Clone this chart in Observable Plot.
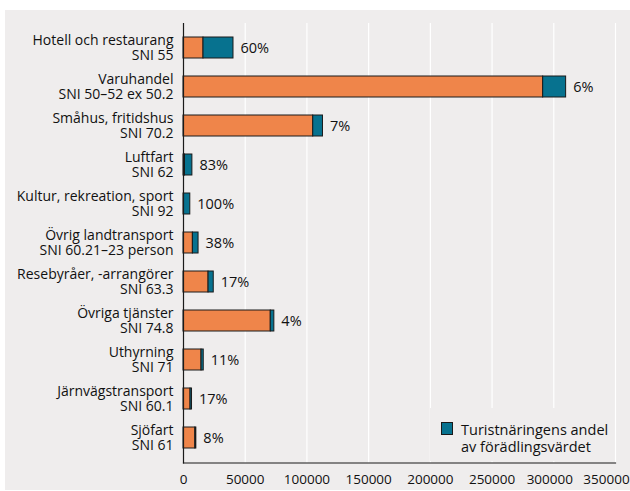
<!DOCTYPE html>
<html>
<head>
<meta charset="utf-8">
<script src="https://cdn.jsdelivr.net/npm/d3@7"></script>
<script src="https://cdn.jsdelivr.net/npm/@observablehq/plot@0.6"></script>
<style>
  html, body { margin: 0; padding: 0; background: #ffffff; }
  #wrap { position: relative; width: 630px; height: 491px; overflow: hidden; }
  #panel { position: absolute; left: 5px; top: 10px; right: 0; bottom: 1px; background: #efeded; }
  #chart { position: absolute; left: 0; top: 0; }
  #legend { position: absolute; left: 430px; top: 408px; width: 184px; height: 53px; background: #efeded;
            font-family: "Open Sans", sans-serif; font-size: 14.5px; color: #111; }
  #legend .sw { position: absolute; left: 11px; top: 14px; width: 12px; height: 13px; box-sizing: border-box;
                background: #07728f; border: 1px solid #1a1a1a; }
  #legend .tx { position: absolute; left: 31px; top: 13px; line-height: 17px; white-space: nowrap; }
</style>
</head>
<body>
<div id="wrap">
  <div id="panel"></div>
  <div id="chart"></div>
  <div id="legend"><div class="sw"></div><div class="tx">Turistnäringens andel<br>av förädlingsvärdet</div></div>
</div>
<script>
const categories = [
  "Hotell och restaurang\nSNI 55",
  "Varuhandel\nSNI 50–52 ex 50.2",
  "Småhus, fritidshus\nSNI 70.2",
  "Luftfart\nSNI 62",
  "Kultur, rekreation, sport\nSNI 92",
  "Övrig landtransport\nSNI 60.21–23 person",
  "Resebyråer, -arrangörer\nSNI 63.3",
  "Övriga tjänster\nSNI 74.8",
  "Uthyrning\nSNI 71",
  "Järnvägstransport\nSNI 60.1",
  "Sjöfart\nSNI 61"
];
// förädlingsvärde utanför turistnäringen (orange)
const ovrigt = [16200, 291400, 105100, 1200, 0, 7600, 20300, 70700, 14600, 5700, 9600];
// turistnäringens del (blå)
const turism = [24300, 18600, 7900, 6000, 5500, 4600, 4200, 2900, 1800, 1200, 800];
const andel = ["60%", "6%", "7%", "83%", "100%", "38%", "17%", "4%", "11%", "17%", "8%"];
const xTicks = [0, 50000, 100000, 150000, 200000, 250000, 300000, 350000];
const series = ["Övrigt", "Turistnäringens andel av förädlingsvärdet"];
const colors = ["#ef854a", "#07728f"];

const rows = categories.flatMap((c, i) => [
  {cat: c, serie: series[0], value: ovrigt[i]},
  {cat: c, serie: series[1], value: turism[i]}
]);
const totals = categories.map((c, i) => ({cat: c, total: ovrigt[i] + turism[i], label: andel[i]}));

const chart = Plot.plot({
  width: 630,
  height: 491,
  marginLeft: 183,
  marginRight: 15,
  marginTop: 23,
  marginBottom: 28.5,
  style: {background: "transparent", fontFamily: "Open Sans, sans-serif", fontSize: "14px", color: "#111"},
  x: {domain: [0, 350000], axis: null},
  y: {domain: categories, paddingInner: 0.45, paddingOuter: 0.225, axis: null},
  color: {domain: series, range: colors},
  marks: [
    Plot.gridX(xTicks.slice(1), {stroke: "#ffffff", strokeOpacity: 1, strokeWidth: 1.2}),
    Plot.barX(rows, {x: "value", y: "cat", fill: "serie", stroke: "#1a1a1a", strokeWidth: 1}),
    Plot.text(totals, {x: "total", y: "cat", text: "label", textAnchor: "start", dx: 7, fontSize: 14.5, fill: "#111"}),
    Plot.axisY({tickSize: 0, tickPadding: 10, fontSize: 14, lineHeight: 1.03, fill: "#111", label: null}),
    Plot.axisX(xTicks.slice(0, 6), {tickSize: 0, tickPadding: 11, fontSize: 13.5, fill: "#111", label: null, tickFormat: d => String(d)}),
    Plot.axisX([xTicks[6]], {tickSize: 0, tickPadding: 11, fontSize: 13.5, fill: "#111", label: null, dx: -4, tickFormat: d => String(d)}),
    Plot.axisX([xTicks[7]], {tickSize: 0, tickPadding: 11, fontSize: 13.5, fill: "#111", label: null, dx: -9, tickFormat: d => String(d)}),
    Plot.frame({anchor: "bottom", stroke: "#1a1a1a", strokeWidth: 1.2}),
    Plot.frame({anchor: "left", stroke: "#1a1a1a", strokeWidth: 1.2})
  ]
});
document.getElementById("chart").appendChild(chart);
</script>
</body>
</html>
